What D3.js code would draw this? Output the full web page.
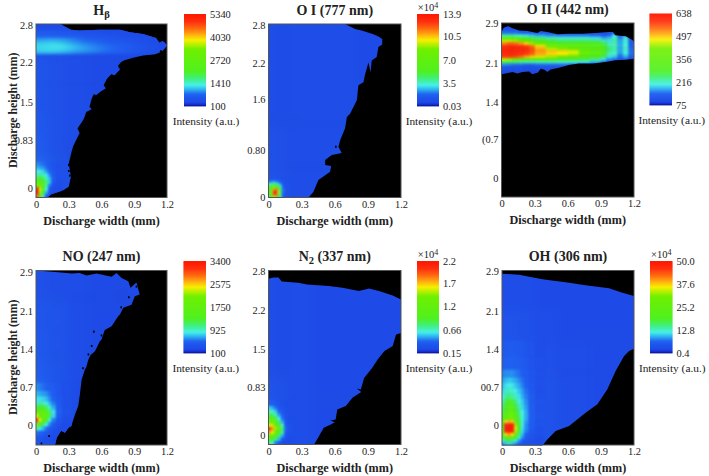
<!DOCTYPE html>
<html><head><meta charset="utf-8">
<script src="https://cdn.jsdelivr.net/npm/d3@7"></script>
<style>html,body{margin:0;padding:0;background:#fff}svg{display:block}
text{font-family:"Liberation Serif","Times New Roman",serif;fill:#222}</style>
</head><body><div id="c"></div>
<script>
// ---- shared ----
const xTickVals=[0,0.3,0.6,0.9,1.2];
const colorPct=[0,1.5,4,13,19,23,30,38,62,68,72,77,84,92,100];
const colorHex=["#0a0a70","#1028c8","#1e48e6","#2060f0","#30bcf0","#48f0e8","#40f080","#50f020","#70f000","#c0f000","#f8f000","#ffb810","#ff7010","#ff3010","#ff1800"];

// ---- H beta ----
const hbYTicks=[2.8,2.16,1.48,0.83,0], hbYLabels=["2.8","2.2","1.5","0.83","0"];
const hbBarTicks=[5340,4030,2720,1410,100], hbBarLabels=["5340","4030","2720","1410","100"];
const hbOutline=[[0,2.82],[0.22,2.82],[0.28,2.76],[0.32,2.72],[0.4,2.71],[0.58,2.72],[0.77,2.72],[0.86,2.68],[0.98,2.65],[1.1,2.58],[1.13,2.5],[1.16,2.53],[1.18,2.5],[1.2,2.45],[1.16,2.36],[1.14,2.38],[1.13,2.33],[1.09,2.3],[0.98,2.28],[0.89,2.24],[0.81,2.2],[0.78,2.17],[0.75,2.1],[0.77,2.04],[0.72,1.94],[0.69,1.96],[0.65,1.88],[0.62,1.77],[0.64,1.72],[0.59,1.66],[0.55,1.6],[0.53,1.62],[0.51,1.54],[0.49,1.4],[0.51,1.36],[0.46,1.31],[0.44,1.2],[0.42,1.14],[0.38,1.03],[0.4,0.95],[0.36,0.8],[0.34,0.72],[0.33,0.66],[0.3,0.43],[0.32,0.2],[0.3,0.03],[0.25,-0.03],[0.19,-0.07],[0.14,-0.1],[0.1,-0.16],[0,-0.16]];
const hbGaps=[[0.3,0.3],[0.3,0.4],[0.31,0.22],[0.52,0.03],[0.38,0.8],[0.49,1.18]];
const hbBgX=[0,0.08,0.16,0.3,0.5,0.8,1.2], hbBgY=[2.85,2.3,1.8,1.3,0.9,0.6,0.4,-0.2];
const hbBg=[[6,6,6,6,6,5],[9,8,7,6,5,5],[9,8,7,6,5,5],[10,9,7,6,5,5],[11,9,7,5,5,5],[13,11,8,5,5,5],[16,12,8,5,5,5]];
const hbBandX=[0,0.1,0.2,0.3,0.4,0.5,0.6,0.7,0.8,0.9,1,1.1,1.2], hbBandY=[2.85,2.72,2.65,2.58,2.52,2.46,2.4,2.35,2.31];
const hbBand=[[5,5,5,5,5,5,5,5,5,5,5,5],[10,10,9,8,7,7,6,6,6,5,5,5],[13,13,12,11,10,9,8,7,6,6,5,5],[17,18,17,15,13,12,10,9,8,7,6,5],[20,21,20,17,15,14,12,11,10,8,6,5],[21,22,22,19,17,15,14,13,11,9,7,6],[21,22,21,19,17,16,14,13,11,9,7,6],[19,19,18,16,15,14,13,12,10,8,7,6]];
const hbHotX=[0,0.025,0.05,0.08,0.11,0.14,0.18,0.24], hbHotY=[0.45,0.38,0.32,0.26,0.2,0.14,0.08,0.02,-0.04,-0.1,-0.16];
const hbHot=[[16,15,14,12,10,8,7],[19,18,17,14,11,9,7],[23,23,21,17,13,10,7],[27,28,26,22,16,10,7],[36,38,34,26,19,12,7],[46,50,42,30,20,10,6],[60,60,46,28,15,7,6],[96,70,46,24,10,6,5],[98,66,38,18,8,6,5],[85,50,26,10,6,5,5]];

// ---- O I ----
const oiYTicks=[2.8,2.185,1.586,0.766,0], oiYLabels=["2.8","2.2","1.6","0.80","0"];
const oiBarTicks=[13.9,10.5,7,3.5,0.03], oiBarLabels=["13.9","10.5","7.0","3.5","0.03"];
const oiOutline=[[0,2.815],[0.693,2.815],[0.784,2.735],[0.844,2.71],[0.95,2.65],[0.995,2.61],[1.03,2.57],[1.03,2.48],[0.995,2.44],[0.98,2.28],[0.935,2.22],[0.925,2.03],[0.905,2.19],[0.875,2.0],[0.86,1.87],[0.814,1.82],[0.8,1.575],[0.74,1.36],[0.71,1.305],[0.693,1.115],[0.65,0.93],[0.633,0.82],[0.663,0.72],[0.573,0.685],[0.513,0.605],[0.513,0.525],[0.567,0.507],[0.558,0.415],[0.497,0.335],[0.452,0.28],[0.407,0.09],[0.362,-0.01],[0,-0.01]];
const oiGaps=[[0.61,0.82]];
const oiBgX=[0,0.1,0.2,0.4,0.8,1.2], oiBgY=[2.82,1.2,0.5,-0.02];
const oiBg=[[6,6,6,6,5],[7,7,6,6,5],[8,7,6,6,5]];
const oiHotX=[0,0.02,0.04,0.06,0.08,0.1,0.12,0.15,0.2], oiHotY=[0.3,0.26,0.23,0.2,0.17,0.14,0.11,0.08,0.05,0.02,-0.01];
const oiHot=[[11,12,12,11,10,8,7,6],[16,18,20,18,15,11,8,7],[24,26,28,26,22,16,9,7],[32,42,46,42,36,22,11,7],[36,52,66,56,50,28,12,7],[40,62,80,82,62,32,14,7],[42,66,90,96,72,34,14,7],[42,66,94,92,70,32,13,7],[38,60,86,84,60,28,12,7],[30,48,70,60,40,22,10,7]];

// ---- O II ----
const oiiYTicks=[2.9,2.15,1.415,0.72,0], oiiYLabels=["2.9","2.1","1.4","(0.7","0"];
const oiiBarTicks=[638,497,356,216,75], oiiBarLabels=["638","497","356","216","75"];
const oiiOutline=[[0,2.74],[0.02,2.82],[0.06,2.85],[0.1,2.81],[0.16,2.77],[0.235,2.76],[0.325,2.72],[0.355,2.76],[0.415,2.74],[0.505,2.7],[0.61,2.71],[0.73,2.71],[0.855,2.72],[0.97,2.74],[1.01,2.74],[1.03,2.68],[1.125,2.66],[1.185,2.59],[1.2,2.555],[1.2,2.24],[1.125,2.22],[1.03,2.21],[0.945,2.18],[0.825,2.15],[0.7,2.15],[0.61,2.12],[0.52,2.07],[0.445,2.035],[0.415,1.99],[0.39,2.03],[0.355,2.05],[0.33,1.98],[0.28,1.95],[0.25,2],[0.19,1.99],[0.145,1.96],[0.1,1.99],[0.055,1.97],[0,1.95]];
const oiiX=[0,0.05,0.1,0.15,0.2,0.25,0.3,0.4,0.5,0.6,0.7,0.8,0.9,0.95,1,1.05,1.1,1.15,1.2];
const oiiY=[2.91,2.76,2.7,2.65,2.6,2.55,2.5,2.45,2.4,2.35,2.3,2.25,2.2,2.15,2.1,2,1.9];
const oiiGrid=[
[8,8,8,7,7,7,7,6,6,6,6,6,5,5,5,5,5,5],
[14,14,14,13,12,12,10,9,8,8,8,8,7,8,12,8,8,7],
[28,28,26,24,22,20,18,16,15,15,15,14,12,14,22,12,18,8],
[50,50,48,42,38,34,30,26,24,24,24,22,18,20,26,16,22,10],
[68,68,66,62,56,50,44,36,32,32,32,30,26,22,26,18,24,12],
[82,86,84,80,74,66,56,44,40,40,40,38,34,26,26,18,24,12],
[92,94,93,92,90,84,74,60,52,48,46,44,38,28,26,18,24,12],
[94,96,95,94,92,88,78,68,64,58,50,46,40,30,26,18,24,14],
[95,96,95,94,92,88,80,76,74,70,56,48,40,30,26,18,24,14],
[93,95,94,92,90,86,78,74,72,68,54,46,38,26,24,16,22,14],
[90,90,88,84,78,74,70,66,60,54,46,42,32,22,20,14,18,12],
[68,66,60,54,48,46,44,40,38,36,34,28,22,16,14,10,12,8],
[34,32,30,28,26,26,26,26,24,24,22,18,12,8,7,6,6,5],
[16,15,14,14,13,13,14,14,14,13,10,8,6,5,5,5,5,5],
[8,8,8,8,7,7,7,7,7,6,5,5,5,5,5,5,5,5],
[6,6,6,6,5,5,5,5,5,5,5,5,5,5,5,5,5,5]];

// ---- NO ----
const noYTicks=[2.9,2.157,1.434,0.73,0], noYLabels=["2.9","2.1","1.4","0.7","0"];
const noBarTicks=[3400,2575,1750,925,100], noBarLabels=["3400","2575","1750","925","100"];
const noOutline=[[0,2.925],[0.204,2.89],[0.326,2.87],[0.4,2.88],[0.463,2.83],[0.555,2.87],[0.692,2.805],[0.738,2.88],[0.784,2.785],[0.845,2.72],[0.866,2.6],[0.92,2.7],[0.95,2.47],[0.905,2.44],[0.875,2.28],[0.8,2.22],[0.77,2.1],[0.753,2.06],[0.692,1.87],[0.63,1.8],[0.6,1.62],[0.585,1.59],[0.54,1.4],[0.5,1.33],[0.48,1.245],[0.46,1.1],[0.448,1.057],[0.418,0.868],[0.402,0.585],[0.387,0.365],[0.357,0.208],[0.33,0.03],[0.326,-0.013],[0.3,-0.04],[0.265,-0.138],[0.23,-0.1],[0.19,-0.233],[0.174,-0.37],[0,-0.37]];
const noGaps=[[0.53,1.77],[0.51,1.5],[0.48,1.34],[0.43,1.08],[0.39,0.2],[0.12,-0.2],[0.05,-0.34],[0.78,2.23],[0.85,2.42],[0.92,2.62],[0.6,1.7]];
const noBgX=[0,0.08,0.16,0.3,0.5,0.8,1.2], noBgY=[2.95,2.4,1.8,1.3,0.8,-0.4];
const noBg=[[7,7,6,6,5,5],[9,9,8,6,5,5],[10,9,8,6,5,5],[11,10,8,6,5,5],[14,12,8,5,5,5]];
const noHotX=[0,0.02,0.05,0.08,0.11,0.14,0.18,0.24,0.32], noHotY=[0.8,0.65,0.55,0.45,0.38,0.3,0.22,0.14,0.06,-0.02,-0.1,-0.2,-0.37];
const noHot=[[16,15,14,13,12,11,9,7],[19,18,17,16,14,12,9,7],[22,22,21,19,16,13,10,7],[26,27,26,23,19,15,10,7],[36,40,38,32,25,18,11,7],[50,54,52,44,32,22,13,8],[70,62,56,46,34,21,11,7],[92,70,50,38,25,15,9,6],[64,48,34,24,16,11,7,5],[28,24,19,14,10,8,6,5],[14,13,11,9,8,6,5,5],[9,8,7,6,6,5,5,5]];

// ---- N2 ----
const n2YTicks=[2.8,2.143,1.48,0.83,0], n2YLabels=["2.8","2.2","1.5","0.83","0"];
const n2BarTicks=[2.2,1.7,1.2,0.66,0.15], n2BarLabels=["2.2","1.7","1.2","0.66","0.15"];
const n2Outline=[[0,2.68],[0.045,2.7],[0.09,2.7],[0.12,2.63],[0.27,2.61],[0.35,2.58],[0.547,2.555],[0.67,2.525],[0.82,2.47],[0.91,2.51],[1,2.47],[1.125,2.39],[1.2,2.325],[1.2,1.75],[1.155,1.725],[1.125,1.525],[1.05,1.44],[0.99,1.3],[0.94,1.155],[0.866,0.98],[0.836,0.78],[0.8,0.8],[0.84,0.74],[0.76,0.64],[0.7,0.5],[0.623,0.44],[0.608,0.27],[0.56,0.25],[0.6,0.22],[0.56,0.18],[0.5,0.126],[0.44,-0.074],[0.41,-0.17],[0,-0.17]];
const n2Gaps=[];
const n2BgX=[0,0.1,0.2,0.4,0.8,1.2], n2BgY=[2.85,1,0.6,-0.2];
const n2Bg=[[6,6,6,5,5],[8,7,6,5,5],[10,8,6,5,5]];
const n2HotX=[0,0.02,0.05,0.08,0.11,0.14,0.17,0.22], n2HotY=[0.6,0.5,0.44,0.38,0.32,0.26,0.2,0.14,0.08,0.02,-0.04,-0.1,-0.17];
const n2Hot=[[13,12,10,8,7,6,6],[20,18,14,10,8,7,6],[26,24,20,13,10,7,6],[34,32,26,17,12,8,6],[46,44,34,23,14,8,6],[58,56,46,30,18,10,6],[70,68,58,44,25,12,7],[94,80,66,52,32,14,7],[80,70,58,46,28,12,7],[60,54,46,32,18,9,6],[44,38,30,19,10,7,5],[30,24,15,10,7,5,5]];

// ---- OH ----
const ohYTicks=[2.9,2.157,1.434,0.725,0], ohYLabels=["2.9","2.1","1.4","00.7","0"];
const ohBarTicks=[50,37.6,25.2,12.8,0.4], ohBarLabels=["50.0","37.6","25.2","12.8","0.4"];
const ohOutline=[[0,2.86],[0.155,2.84],[0.367,2.755],[0.61,2.69],[0.76,2.64],[0.973,2.585],[1.094,2.5],[1.2,2.44],[1.2,1.447],[1.155,1.4],[1.11,1.31],[1.033,1.025],[0.958,0.68],[0.867,0.4],[0.76,0.24],[0.61,-0.013],[0.488,-0.107],[0.412,-0.264],[0.367,-0.38],[0,-0.38]];
const ohGaps=[];
const ohBgX=[0,0.08,0.16,0.3,0.5,0.8,1.2], ohBgY=[2.95,2.2,1.6,1,0.5,-0.4];
const ohBg=[[6,6,6,5,5,5],[8,8,7,6,5,5],[10,10,9,7,6,5],[10,10,10,8,6,5],[10,10,10,8,6,5]];
const ohHotX=[0,0.02,0.05,0.08,0.11,0.14,0.17,0.2,0.24,0.3,0.38], ohHotY=[1.6,1.3,1.05,0.9,0.8,0.7,0.6,0.5,0.4,0.3,0.2,0.1,0.04,-0.02,-0.08,-0.14,-0.2,-0.26,-0.32,-0.38];
const ohHot=[[10,11,11,11,11,10,10,9,8,6],[12,13,13,13,13,12,11,10,8,7],[15,16,16,16,15,14,12,11,9,7],[17,19,20,19,18,16,14,12,9,7],[19,22,23,22,20,18,15,13,10,7],[21,25,26,25,23,20,17,14,10,7],[23,28,30,28,25,22,18,15,11,7],[26,35,39,36,30,24,20,16,11,8],[30,42,47,44,36,27,21,17,12,8],[34,47,52,50,42,30,23,18,12,8],[38,52,60,56,46,34,24,18,12,8],[44,74,78,76,56,36,24,17,12,8],[58,94,97,96,66,38,23,16,11,8],[62,98,100,98,70,38,22,16,11,7],[58,95,98,95,66,36,21,15,10,7],[46,74,80,74,54,32,19,13,9,7],[36,50,54,48,38,26,16,11,8,6],[24,32,34,30,24,17,12,9,7,6],[16,20,21,19,16,12,9,7,6,5]];

const panels=[
 {title:["H",[ "β",1]],box:[36,167,24,197.5],yDom:[-0.155,2.82],bar:[184,206,14,106],power:false,yTitle:true,yTicks:hbYTicks,yLabels:hbYLabels,barTicks:hbBarTicks,barLabels:hbBarLabels,outline:hbOutline,gaps:hbGaps,
  layers:[[hbBgX,hbBgY,hbBg,"wide"],[hbBandX,hbBandY,hbBand,"streak"],[hbHotX,hbHotY,hbHot,"soft"]]},
 {title:["O I (777 nm)"],box:[268.5,401,24,197.5],yDom:[-0.005,2.815],bar:[417,439,14,106],power:true,yTicks:oiYTicks,yLabels:oiYLabels,barTicks:oiBarTicks,barLabels:oiBarLabels,outline:oiOutline,gaps:oiGaps,
  layers:[[oiBgX,oiBgY,oiBg,"wide"],[oiHotX,oiHotY,oiHot,"soft"]]},
 {title:["O II (442 nm)"],box:[501.5,634,23,197],yDom:[-0.357,2.91],bar:[649.5,672,13.5,105],power:false,yTicks:oiiYTicks,yLabels:oiiYLabels,barTicks:oiiBarTicks,barLabels:oiiBarLabels,outline:oiiOutline,gaps:[],
  layers:[[oiiX,oiiY,oiiGrid,"soft"]]},
 {title:["NO (247 nm)"],box:[36,167,270.5,445],yDom:[-0.37,2.925],bar:[183.5,206,261,353],power:false,yTitle:true,yTicks:noYTicks,yLabels:noYLabels,barTicks:noBarTicks,barLabels:noBarLabels,outline:noOutline,gaps:noGaps,
  layers:[[noBgX,noBgY,noBg,"wide"],[noHotX,noHotY,noHot,"soft"]]},
 {title:["N",["2",1]," (337 nm)"],box:[268.5,401,270.5,444.5],yDom:[-0.16,2.82],bar:[417,439,261,353],power:true,yTicks:n2YTicks,yLabels:n2YLabels,barTicks:n2BarTicks,barLabels:n2BarLabels,outline:n2Outline,gaps:n2Gaps,
  layers:[[n2BgX,n2BgY,n2Bg,"wide"],[n2HotX,n2HotY,n2Hot,"soft"]]},
 {title:["OH (306 nm)"],box:[502,634,270.5,445],yDom:[-0.37,2.92],bar:[650,672.5,261,353],power:true,yTicks:ohYTicks,yLabels:ohYLabels,barTicks:ohBarTicks,barLabels:ohBarLabels,outline:ohOutline,gaps:ohGaps,
  layers:[[ohBgX,ohBgY,ohBg,"wide"],[ohHotX,ohHotY,ohHot,"soft"]]}
];

const tickFont=10.4;
const color=d3.scaleLinear().domain(colorPct).range(colorHex).clamp(true);
const svg=d3.select("#c").append("svg").attr("width",709).attr("height",476);
const defs=svg.append("defs");
[["soft","1"],["wide","6"],["streak","6 1.5"]].forEach(([id,sd])=>{
  defs.append("filter").attr("id",id)
    .attr("filterUnits","userSpaceOnUse").attr("x",-40).attr("y",-40).attr("width",789).attr("height",556)
    .attr("color-interpolation-filters","sRGB")
    .append("feGaussianBlur").attr("stdDeviation",sd);
});

panels.forEach((p,pi)=>{
  const [x0,x1,y0,y1]=p.box;
  const x=d3.scaleLinear().domain([0,1.2]).range([x0,x1]);
  const y=d3.scaleLinear().domain(p.yDom).range([y1,y0]);
  const g=svg.append("g");
  g.append("rect").attr("x",x0).attr("y",y0).attr("width",x1-x0).attr("height",y1-y0).attr("fill","#000");

  const line=d3.line().x(d=>x(d[0])).y(d=>y(d[1])).curve(d3.curveLinearClosed);
  defs.append("clipPath").attr("id","clip"+pi).append("path").attr("d",line(p.outline));
  const clipped=g.append("g").attr("clip-path",`url(#clip${pi})`);
  p.layers.forEach(([xs,ys,m,blur])=>{
    const cells=[];
    m.forEach((row,r)=>row.forEach((v,c)=>cells.push({r,c,v})));
    const pad=20;
    const full=blur!=="soft"||m===oiiGrid;
    const lastC=m[0].length-1, lastR=m.length-1;
    const reachesBottom=y(ys[lastR+1])>=y1-1;
    const padL=d=>d.c===0?pad:0;
    const padR=d=>(d.c===lastC&&full)?pad:0;
    const padT=d=>(d.r===0&&full)?pad:0;
    const padB=d=>(d.r===lastR&&reachesBottom)?pad:0;
    clipped.append("g").attr("filter",`url(#${blur})`).selectAll("rect").data(cells).join("rect")
      .attr("x",d=>x(xs[d.c])-padL(d))
      .attr("y",d=>y(ys[d.r])-padT(d))
      .attr("width",d=>x(xs[d.c+1])-x(xs[d.c])+padL(d)+padR(d)+0.3)
      .attr("height",d=>y(ys[d.r+1])-y(ys[d.r])+padT(d)+padB(d)+0.3)
      .attr("fill",d=>color(d.v));
  });
  g.append("g").selectAll("rect").data(p.gaps).join("rect")
    .attr("x",d=>x(d[0])-0.8).attr("y",d=>y(d[1])-1).attr("width",1.6).attr("height",2).attr("fill","#000");
  g.append("rect").attr("x",x0).attr("y",y0).attr("width",x1-x0).attr("height",y1-y0)
    .attr("fill","none").attr("stroke","#555").attr("stroke-width",1);

  // axes
  const ax=g.append("g").attr("transform",`translate(0,${y1})`)
    .call(d3.axisBottom(x).tickValues(xTickVals).tickSize(0).tickPadding(3).tickFormat(d=>d===0?"0":d3.format(".1f")(d)));
  ax.select(".domain").remove();
  ax.selectAll("text").attr("font-size",tickFont).style("font-family",'"Liberation Serif",serif');
  const ay=g.append("g").attr("transform",`translate(${x0},0)`)
    .call(d3.axisLeft(y).tickValues(p.yTicks).tickSize(0).tickPadding(3).tickFormat((d,i)=>p.yLabels[i]));
  ay.select(".domain").remove();
  ay.selectAll("text").attr("font-size",tickFont).style("font-family",'"Liberation Serif",serif');

  // titles
  const cx=(x0+x1)/2;
  const t=g.append("text").attr("x",cx).attr("y",y0-9.5).attr("text-anchor","middle").attr("font-size",14).attr("font-weight","bold");
  p.title.forEach(part=>{
    if(Array.isArray(part)){t.append("tspan").attr("dy",3).attr("font-size",10.5).text(part[0]);}
    else{const s=t.append("tspan").text(part); if(p.title.indexOf(part)>0) s.attr("dy",-3);}
  });
  g.append("text").attr("x",cx).attr("y",y1+27).attr("text-anchor","middle").attr("font-size",12.2).attr("font-weight","bold").text("Discharge width (mm)");
  if(p.yTitle){
    g.append("text").attr("transform",`translate(${x0-19.5},${(y0+y1)/2-0.5}) rotate(-90)`).attr("text-anchor","middle").attr("font-size",11.8).attr("font-weight","bold").text("Discharge height (mm)");
  }

  // colour bar
  const [bx0,bx1,by0,by1]=p.bar;
  const barY=d3.scaleLinear().domain([p.barTicks[4],p.barTicks[0]]).range([by1,by0]);
  const levels=d3.range(0,92);
  const lvlH=(by1-by0)/levels.length;
  const bar=g.append("g");
  bar.selectAll("rect").data(levels).join("rect")
    .attr("x",bx0).attr("width",bx1-bx0)
    .attr("y",d=>by1-(d+1)*lvlH).attr("height",lvlH+0.4)
    .attr("fill",d=>color((d+0.5)/levels.length*100));
  const ab=g.append("g").attr("transform",`translate(${bx1},0)`)
    .call(d3.axisRight(barY).tickValues(p.barTicks).tickSize(0).tickPadding(4).tickFormat((d,i)=>p.barLabels[i]));
  ab.select(".domain").remove();
  ab.selectAll("text").attr("font-size",tickFont).style("font-family",'"Liberation Serif",serif');
  if(p.power){
    const u=g.append("text").attr("x",(bx0+bx1)/2).attr("y",by0-3).attr("text-anchor","middle").attr("font-size",10.5);
    u.append("tspan").text("×10");
    u.append("tspan").attr("dy",-3).attr("font-size",8).text("4");
  }
  g.append("text").attr("x",(bx0+bx1)/2+11).attr("y",by1+19).attr("text-anchor","middle").attr("font-size",11.4).text("Intensity (a.u.)");
});
</script></body></html>
